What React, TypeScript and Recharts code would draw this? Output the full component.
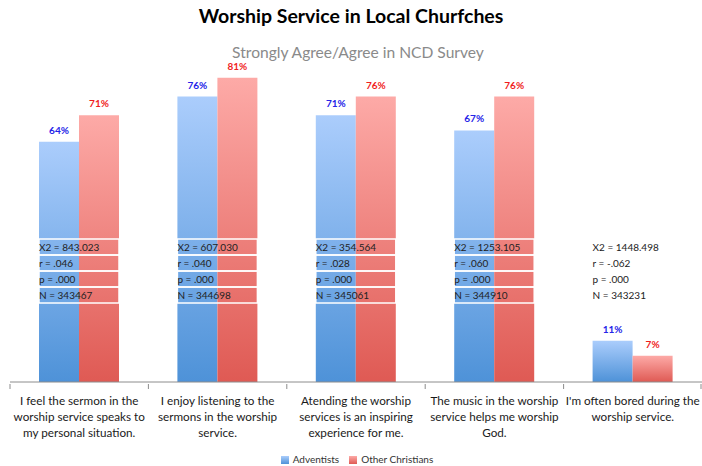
import { Bar, BarChart, LabelList, Legend, XAxis, YAxis } from 'recharts';

const categories = [
  'I feel the sermon in the|worship service speaks to|my personal situation.',
  'I enjoy listening to the|sermons in the worship|service.',
  'Atending the worship|services is an inspiring|experience for me.',
  'The music in the worship|service helps me worship|God.',
  "I'm often bored during the|worship service.",
];
const adventists = [64, 76, 71, 67, 11];
const otherChristians = [71, 81, 76, 76, 7];
const chiSquare = ['843.023', '607.030', '354.564', '1253.105', '1448.498'];
const rValues = ['.046', '.040', '.028', '.060', '-.062'];
const pValues = ['.000', '.000', '.000', '.000', '.000'];
const nValues = ['343467', '344698', '345061', '344910', '343231'];

const data = categories.map((label, i) => ({
  label,
  adventists: adventists[i],
  others: otherChristians[i],
  stats: [
    `X2 = ${chiSquare[i]}`,
    `r = ${rValues[i]}`,
    `p = ${pValues[i]}`,
    `N = ${nValues[i]}`,
  ],
}));

const FONT = 'Lato, "Open Sans", sans-serif';

function CategoryTick(props: any) {
  const { x, y, payload, index, visibleTicksCount } = props;
  const band = 692 / categories.length;
  const lines = String(payload.value).split('|');
  return (
    <g>
      <line x1={x - band / 2} x2={x - band / 2} y1={y - 6} y2={y - 1} stroke="#8c8c8c" />
      {index === visibleTicksCount - 1 && (
        <line x1={x + band / 2 - 1} x2={x + band / 2 - 1} y1={y - 6} y2={y - 1} stroke="#8c8c8c" />
      )}
      <text x={x} y={y + 15} textAnchor="middle" fill="#1a1a1a" fontSize={11.7} fontFamily={FONT}>
        {lines.map((line, i) => (
          <tspan key={i} x={x} dy={i === 0 ? 0 : 16}>
            {line}
          </tspan>
        ))}
      </text>
    </g>
  );
}

// stats table drawn over the bar pair, anchored on the baseline
function StatsTable(props: any) {
  const { x, y, width, height, index } = props;
  const base = y + height;
  const rowH = 16;
  const top = base - 143;
  const stats = data[index].stats;
  return (
    <g>
      {stats.map((s: string, i: number) => (
        <g key={i}>
          <rect
            x={x}
            y={top + i * rowH}
            width={width * 2}
            height={rowH}
            fill="none"
            stroke="#ffffff"
            strokeWidth={1.5}
          />
          <text
            x={x}
            y={top + i * rowH + 12}
            fontSize={10}
            fill="#222"
            fontFamily={FONT}
          >
            {s}
          </text>
        </g>
      ))}
    </g>
  );
}

export default function App() {
  return (
    <div style={{ position: 'fixed', left: 0, top: 0, width: 702, height: 466, background: '#fff' }}>
      <div
        style={{
          position: 'absolute',
          top: 4,
          width: 702,
          textAlign: 'center',
          fontFamily: FONT,
          fontWeight: 700,
          fontSize: 19.5,
          color: '#000',
        }}
      >
        Worship Service in Local Churfches
      </div>
      <div
        style={{
          position: 'absolute',
          top: 44,
          left: 7,
          width: 702,
          textAlign: 'center',
          fontFamily: FONT,
          fontSize: 15.6,
          lineHeight: '16px',
          color: '#8a8a8a',
        }}
      >
        Strongly Agree/Agree in NCD Survey
      </div>
      <BarChart
        width={702}
        height={466}
        data={data}
        margin={{ top: 44, right: 0, left: 10, bottom: 1 }}
        barSize={40}
        barGap={0}
      >
        <defs>
          <linearGradient id="gradBlue" x1="0" y1="0" x2="0" y2="1">
            <stop offset="0%" stopColor="#abcdfc" />
            <stop offset="100%" stopColor="#4e92d8" />
          </linearGradient>
          <linearGradient id="gradRed" x1="0" y1="0" x2="0" y2="1">
            <stop offset="0%" stopColor="#fdaaa7" />
            <stop offset="100%" stopColor="#df5a54" />
          </linearGradient>
        </defs>
        <XAxis
          dataKey="label"
          interval={0}
          height={71}
          axisLine={{ stroke: '#8c8c8c' }}
          tickLine={false}
          tick={<CategoryTick />}
        />
        <YAxis hide domain={[0, 90]} />
        <Legend
          verticalAlign="bottom"
          iconType="square"
          iconSize={8}
          wrapperStyle={{ fontFamily: FONT, fontSize: 10, left: 16 }}
          formatter={(value) => <span style={{ color: '#333' }}>{value}</span>}
        />
        <Bar dataKey="adventists" name="Adventists" fill="url(#gradBlue)" isAnimationActive={false}>
          <LabelList
            dataKey="adventists"
            position="top"
            offset={8}
            formatter={(v: any) => `${v}%`}
            style={{ fill: '#2424e8', fontSize: 10, fontWeight: 700, fontFamily: FONT }}
          />
          <LabelList dataKey="adventists" content={<StatsTable />} />
        </Bar>
        <Bar dataKey="others" name="Other Christians" fill="url(#gradRed)" isAnimationActive={false}>
          <LabelList
            dataKey="others"
            position="top"
            offset={8}
            formatter={(v: any) => `${v}%`}
            style={{ fill: '#f01d1d', fontSize: 10, fontWeight: 700, fontFamily: FONT }}
          />
        </Bar>
      </BarChart>
    </div>
  );
}
